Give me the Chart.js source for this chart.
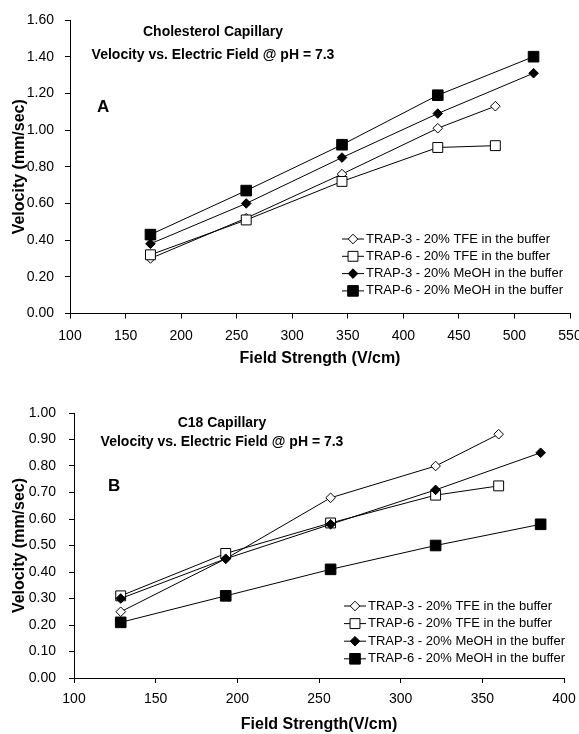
<!DOCTYPE html>
<html>
<head>
<meta charset="utf-8">
<script src="https://cdn.jsdelivr.net/npm/chart.js@4.4.0/dist/chart.umd.min.js"></script>
<style>
  body { margin: 0; background: #fff; }
  canvas { position: absolute; left: 0; }
  #chartA { top: 0; }
  #chartB { top: 370px; }
</style>
</head>
<body>
<canvas id="chartA" width="579" height="370"></canvas>
<canvas id="chartB" width="579" height="364"></canvas>
<script>
// Series labels (same four runs in both panels)
const seriesLabels = [
    'TRAP-3 - 20% TFE in the buffer',
    'TRAP-6 - 20% TFE in the buffer',
    'TRAP-3 - 20% MeOH in the buffer',
    'TRAP-6 - 20% MeOH in the buffer'
];

// Panel A - cholesterol capillary
const fieldA_TFE  = [172.4, 258.6, 344.8, 431.0, 482.8];
const fieldA_MeOH = [172.4, 258.6, 344.8, 431.0, 517.2];
const trap3TfeA   = [0.30, 0.52, 0.76, 1.01, 1.13];
const trap6TfeA   = [0.32, 0.51, 0.72, 0.905, 0.915];
const trap3MeohA  = [0.38, 0.60, 0.85, 1.09, 1.31];
const trap6MeohA  = [0.43, 0.67, 0.92, 1.19, 1.40];

// Panel B - C18 capillary
const fieldB_TFE  = [128.6, 192.9, 257.1, 321.4, 360.0];
const fieldB_MeOH = [128.6, 192.9, 257.1, 321.4, 385.7];
const trap3TfeB   = [0.25, 0.45, 0.68, 0.80, 0.92];
const trap6TfeB   = [0.31, 0.47, 0.585, 0.69, 0.725];
const trap3MeohB  = [0.30, 0.45, 0.58, 0.71, 0.85];
const trap6MeohB  = [0.21, 0.31, 0.41, 0.50, 0.58];

const FONT = "'Liberation Sans', Arial, sans-serif";
Chart.defaults.font.family = FONT;
Chart.defaults.color = '#000';

// marker look for each series (open diamond, open square, filled diamond, filled square)
const markers = [
    { pointStyle: 'rectRot', pointRadius: 4.8, pointBackgroundColor: '#fff' },
    { pointStyle: 'rect', pointRadius: 7, pointBackgroundColor: '#fff' },
    { pointStyle: 'rectRot', pointRadius: 4.8, pointBackgroundColor: '#000' },
    { pointStyle: 'rect', pointRadius: 7.5, pointBackgroundColor: '#000' }
];

function toPoints(xs, ys) {
    return xs.map((x, i) => ({ x: x, y: ys[i] }));
}

function buildDatasets(series) {
    return series.map((pts, i) => ({
        label: seriesLabels[i],
        data: pts,
        borderColor: '#000',
        borderWidth: 1,
        pointBorderColor: '#000',
        pointBorderWidth: 1,
        pointHoverRadius: markers[i].pointRadius,
        order: series.length - i, // later series on top, like the original
        ...markers[i]
    }));
}

// legend with a line sample through the marker
const lineLegend = {
    id: 'lineLegend',
    afterDraw(chart, args, opts) {
        const ctx = chart.ctx;
        ctx.save();
        ctx.font = '13px ' + FONT;
        ctx.textBaseline = 'middle';
        ctx.textAlign = 'left';
        chart.data.datasets.forEach((ds, i) => {
            const y = opts.y + i * opts.rowGap;
            ctx.strokeStyle = '#000';
            ctx.lineWidth = 1;
            ctx.beginPath();
            ctx.moveTo(opts.x, y);
            ctx.lineTo(opts.x + 22, y);
            ctx.stroke();
            ctx.fillStyle = ds.pointBackgroundColor;
            Chart.helpers.drawPoint(ctx, {
                pointStyle: ds.pointStyle,
                radius: ds.pointRadius,
                borderWidth: 1,
                rotation: 0
            }, opts.x + 11, y);
            ctx.fillStyle = '#000';
            ctx.fillText(ds.label, opts.x + 24, y);
        });
        ctx.restore();
    }
};

// captions written inside the plot area
const panelText = {
    id: 'panelText',
    afterDraw(chart, args, opts) {
        const ctx = chart.ctx;
        ctx.save();
        ctx.fillStyle = '#000';
        ctx.textBaseline = 'middle';
        opts.items.forEach(t => {
            ctx.font = t.font;
            ctx.textAlign = t.align;
            ctx.fillText(t.text, t.x, t.y);
        });
        ctx.restore();
    }
};

function makeChart(canvasId, cfg) {
    return new Chart(document.getElementById(canvasId), {
        type: 'line',
        data: { datasets: buildDatasets(cfg.series) },
        options: {
            responsive: false,
            animation: false,
            layout: { padding: { top: cfg.top, right: cfg.right, left: 0, bottom: 0 } },
            plugins: {
                legend: { display: false },
                tooltip: { enabled: false },
                lineLegend: cfg.legend,
                panelText: { items: cfg.captions }
            },
            scales: {
                x: {
                    type: 'linear',
                    min: cfg.xMin,
                    max: cfg.xMax,
                    ticks: { stepSize: 50, padding: cfg.xTickPad, maxRotation: 0, font: { size: 14 }, color: '#000' },
                    grid: { drawOnChartArea: false, tickLength: 5, color: '#000' },
                    border: { color: '#000', width: 1 },
                    title: {
                        display: true, text: cfg.xTitle, color: '#000',
                        font: { size: 16, weight: 'bold' },
                        padding: { top: 0, bottom: cfg.xTitlePad }
                    },
                    afterFit: (s) => { s.height = cfg.xHeight; s.paddingLeft = 0; s.paddingRight = 0; }
                },
                y: {
                    min: 0,
                    max: cfg.yMax,
                    ticks: {
                        stepSize: cfg.yStep, padding: cfg.yTickPad, font: { size: 14 }, color: '#000',
                        callback: (v) => v.toFixed(2)
                    },
                    grid: { drawOnChartArea: false, tickLength: 5, color: '#000' },
                    border: { color: '#000', width: 1 },
                    title: {
                        display: true, text: 'Velocity (mm/sec)', color: '#000',
                        font: { size: 16, weight: 'bold' },
                        padding: { top: 10, bottom: 0 }
                    },
                    afterFit: (s) => { s.width = cfg.yWidth; }
                }
            }
        },
        plugins: [lineLegend, panelText]
    });
}

makeChart('chartA', {
    series: [
        toPoints(fieldA_TFE, trap3TfeA),
        toPoints(fieldA_TFE, trap6TfeA),
        toPoints(fieldA_MeOH, trap3MeohA),
        toPoints(fieldA_MeOH, trap6MeohA)
    ],
    xMin: 100, xMax: 550, yMax: 1.6, yStep: 0.2,
    top: 20, right: 9, yWidth: 70, xHeight: 56.5,
    xTickPad: 9, yTickPad: 11, xTitlePad: 2,
    xTitle: 'Field Strength (V/cm)',
    legend: { x: 342, y: 239, rowGap: 17.3 },
    captions: [
        { text: 'Cholesterol Capillary', x: 213, y: 32, align: 'center', font: 'bold 14px ' + FONT },
        { text: 'Velocity vs. Electric Field @ pH = 7.3', x: 213, y: 55, align: 'center', font: 'bold 14px ' + FONT },
        { text: 'A', x: 97, y: 107, align: 'left', font: 'bold 17px ' + FONT }
    ]
});

makeChart('chartB', {
    series: [
        toPoints(fieldB_TFE, trap3TfeB),
        toPoints(fieldB_TFE, trap6TfeB),
        toPoints(fieldB_MeOH, trap3MeohB),
        toPoints(fieldB_MeOH, trap6MeohB)
    ],
    xMin: 100, xMax: 400, yMax: 1.0, yStep: 0.1,
    top: 43, right: 15, yWidth: 74, xHeight: 56,
    xTickPad: 8, yTickPad: 13, xTitlePad: 0,
    xTitle: 'Field Strength(V/cm)',
    legend: { x: 344, y: 236, rowGap: 17.6 },
    captions: [
        { text: 'C18 Capillary', x: 222, y: 53, align: 'center', font: 'bold 14px ' + FONT },
        { text: 'Velocity vs. Electric Field @ pH = 7.3', x: 222, y: 72, align: 'center', font: 'bold 14px ' + FONT },
        { text: 'B', x: 108, y: 116, align: 'left', font: 'bold 17px ' + FONT }
    ]
});
</script>
</body>
</html>
